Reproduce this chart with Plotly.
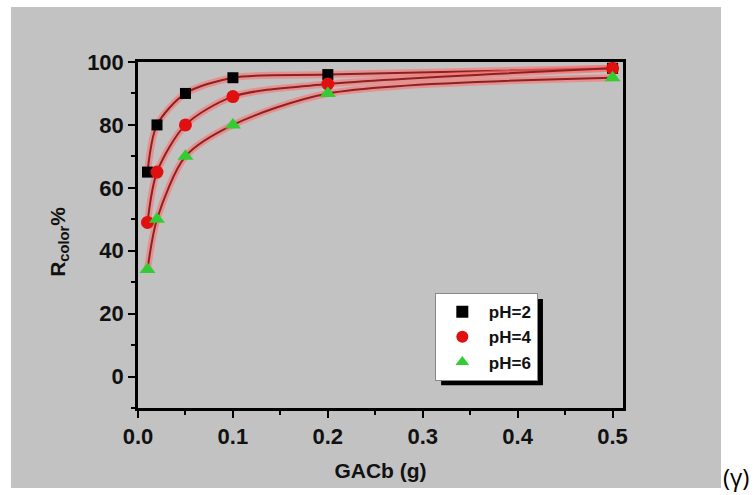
import plotly.graph_objects as go

# GACb dose (g) and colour removal (%) at three pH values
dose = [0.01, 0.02, 0.05, 0.1, 0.2, 0.5]
r_ph2 = [65, 80, 90, 95, 96, 98]
r_ph4 = [49, 65, 80, 89, 93, 98]
r_ph6 = [34, 50, 70, 80, 90, 95]

series = [
    ("pH=2", r_ph2, "square", "#000000", 11),
    ("pH=4", r_ph4, "circle", "#e01010", 13),
    ("pH=6", r_ph6, "triangle-up", "#33cc33", 14),
]

x_ticks = [0.0, 0.1, 0.2, 0.3, 0.4, 0.5]
y_ticks = [0, 20, 40, 60, 80, 100]

fig = go.Figure()

# smooth fitted curves: soft red halo under a dark red line
for name, vals, sym, col, sz in series:
    fig.add_trace(go.Scatter(
        x=dose, y=vals, mode="lines", showlegend=False, hoverinfo="skip",
        line=dict(color="rgba(255,110,110,0.6)", width=7, shape="spline", smoothing=0.8),
    ))
    fig.add_trace(go.Scatter(
        x=dose, y=vals, mode="lines", showlegend=False, hoverinfo="skip",
        line=dict(color="#8a2222", width=2, shape="spline", smoothing=0.8),
    ))

for name, vals, sym, col, sz in series:
    fig.add_trace(go.Scatter(
        x=dose, y=vals, mode="markers", name=name,
        marker=dict(symbol=sym, color=col, size=sz, line=dict(width=0)),
    ))

family = "Liberation Sans, Arial, sans-serif"
tick_font = dict(family=family, size=22, color="#111111", weight="bold")
title_font = dict(family=family, size=21, color="#111111", weight="bold")

axis_common = dict(
    showline=True, linecolor="#000000", linewidth=2.5, mirror=True,
    ticks="outside", ticklen=7, tickwidth=2, tickcolor="#000000",
    showgrid=False, zeroline=False, tickfont=tick_font,
    minor=dict(ticks="outside", ticklen=4, tickwidth=2, tickcolor="#000000", showgrid=False),
)

fig.update_xaxes(
    range=[0, 0.511], tickvals=x_ticks, ticktext=[f"{v:.1f}" for v in x_ticks],
    minor_dtick=0.05,
    title=dict(text="GACb (g)", font=title_font, standoff=16),
    **axis_common,
)
fig.update_yaxes(
    range=[-10, 100], tickvals=y_ticks, ticktext=[str(v) for v in y_ticks],
    minor_dtick=10,
    **axis_common,
)

# y-axis label, set slightly below the axis midpoint
fig.add_annotation(text="R<sub>color</sub>%", xref="paper", yref="paper",
                   x=-0.163, y=0.48, xanchor="center", yanchor="middle",
                   textangle=-90, showarrow=False, font=title_font)

# grey panel behind the chart, plus a drop shadow for the legend box
fig.add_shape(type="rect", xref="paper", yref="paper", layer="below",
              x0=-0.262, x1=1.202, y0=-0.231, y1=1.159,
              fillcolor="#c2c2c2", line=dict(width=0))
fig.add_shape(type="rect", xref="paper", yref="paper", layer="below",
              x0=0.625, x1=0.835, y0=0.066, y1=0.315,
              fillcolor="#000000", line=dict(width=0))

fig.add_annotation(text="(γ)", xref="paper", yref="paper", x=1.233, y=-0.199,
                   xanchor="center", yanchor="middle", showarrow=False,
                   font=dict(family="Open Sans, sans-serif", size=24, color="#000000"))

fig.update_layout(
    width=756, height=495,
    margin=dict(l=138, r=133, t=62, b=87),
    paper_bgcolor="#ffffff",
    plot_bgcolor="rgba(0,0,0,0)",
    showlegend=True,
    legend=dict(
        x=0.612, y=0.332, xanchor="left", yanchor="top",
        bgcolor="#ffffff", bordercolor="#888888", borderwidth=1,
        font=dict(family=family, size=17, color="#111111", weight="bold"),
        itemsizing="constant", itemwidth=43, tracegroupgap=0,
    ),
)

fig.write_html("out.html")
